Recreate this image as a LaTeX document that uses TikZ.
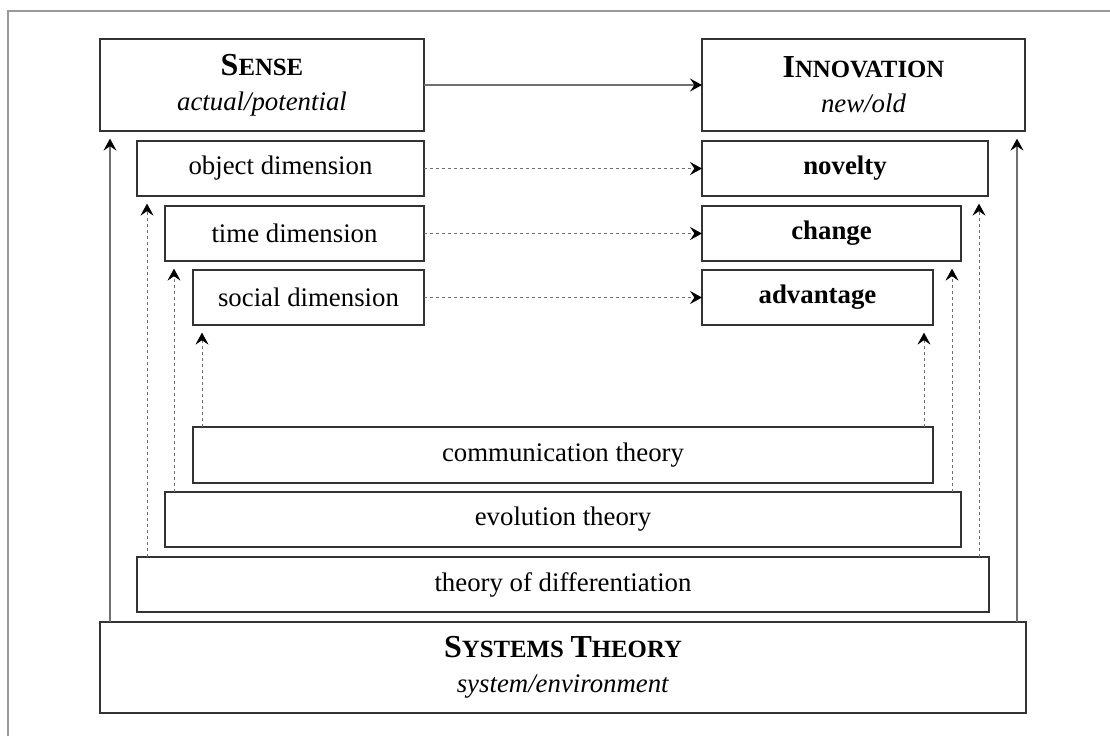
\documentclass[tikz,border=0pt]{standalone}
\usepackage{fontspec}
\setmainfont{Liberation Serif}
\usetikzlibrary{arrows.meta}
\definecolor{boxc}{HTML}{333333}
\definecolor{linec}{HTML}{707070}
\definecolor{framec}{HTML}{999999}
\newcommand{\fakesc}[2]{{\fontsize{16}{17}\selectfont #1}{\fontsize{12.4}{17}\selectfont #2}}
\tikzset{
  box/.style={draw=boxc, line width=0.9pt, inner sep=0pt, outer sep=0pt, align=center,
    font=\fontsize{13.4}{17.5}\selectfont},
  tip/.style={-{Stealth[length=6pt,width=6.5pt,inset=2.2pt,color=black]}},
  solidarr/.style={tip, draw=linec, line width=0.6pt},
  dasharr/.style={tip, draw=linec, line width=0.5pt, dash pattern=on 1.5pt off 1.5pt},
  uparr/.style={shorten >=3.8pt}
}
\begin{document}
\begin{tikzpicture}[x=0.5pt,y=-0.5pt]
\useasboundingbox (0,0) rectangle (1110,736);
\draw[framec, line width=1pt] (8,736) -- (8,11) -- (1110,11);
% top boxes
\node[box, minimum width=162pt, minimum height=46pt] (sense) at (262,85)
  {\textbf{\fakesc{S}{ENSE}}\\ \textit{actual/potential}};
\node[box, minimum width=161.5pt, minimum height=46pt] (innov) at (863.5,85)
  {\textbf{\fakesc{I}{NNOVATION}}\\ \textit{new/old}};
% dimensions
\node[box, minimum width=143.5pt, minimum height=27.5pt] (obj) at (280.5,168.5) {object dimension};
\node[box, minimum width=129.5pt, minimum height=27.5pt] (time) at (294.5,233.5) {time dimension};
\node[box, minimum width=115.5pt, minimum height=27.5pt] (social) at (308.5,297.5) {social dimension};
\node[box, minimum width=143pt, minimum height=27.5pt] (nov) at (845,168.5) {\textbf{novelty}};
\node[box, minimum width=129.5pt, minimum height=27.5pt] (chg) at (831.5,233.5) {\textbf{change}};
\node[box, minimum width=115.5pt, minimum height=27.5pt] (adv) at (817.5,297.5) {\textbf{advantage}};
% theories
\node[box, minimum width=370pt, minimum height=28pt] (comm) at (563,455) {communication theory};
\node[box, minimum width=398pt, minimum height=27.5pt] (evol) at (563,519.5) {evolution theory};
\node[box, minimum width=426pt, minimum height=27.5pt] (diff) at (563,584.5) {theory of differentiation};
\node[box, minimum width=463pt, minimum height=45.5pt] (sys) at (563,667.5)
  {\textbf{\fakesc{S}{YSTEMS} \fakesc{T}{HEORY}}\\ \textit{system/environment}};
% x positions of vertical connectors
\coordinate (xa) at (110,0);
\coordinate (xb) at (147,0);
\coordinate (xc) at (174,0);
\coordinate (xd) at (202,0);
\coordinate (xe) at (924,0);
\coordinate (xf) at (952,0);
\coordinate (xg) at (979,0);
\coordinate (xh) at (1017,0);
% horizontal connectors
\draw[solidarr] (sense.east) -- (innov.west);
\draw[dasharr] (obj.east) -- (nov.west);
\draw[dasharr] (time.east) -- (chg.west);
\draw[dasharr] (social.east) -- (adv.west);
% vertical connectors
\draw[solidarr, uparr] (sys.north -| xa) -- (sense.south -| xa);
\draw[solidarr, uparr] (sys.north -| xh) -- (innov.south -| xh);
\draw[dasharr, uparr] (diff.north -| xb) -- (obj.south -| xb);
\draw[dasharr, uparr] (evol.north -| xc) -- (time.south -| xc);
\draw[dasharr, uparr] (comm.north -| xd) -- (social.south -| xd);
\draw[dasharr, uparr] (diff.north -| xg) -- (nov.south -| xg);
\draw[dasharr, uparr] (evol.north -| xf) -- (chg.south -| xf);
\draw[dasharr, uparr] (comm.north -| xe) -- (adv.south -| xe);
\end{tikzpicture}
\end{document}
